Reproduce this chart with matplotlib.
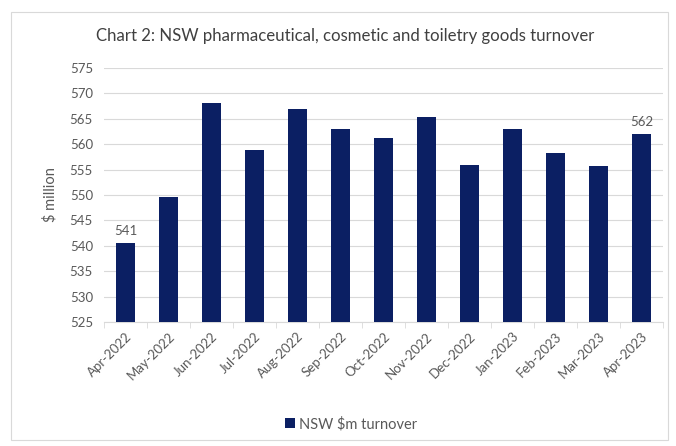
import matplotlib
matplotlib.use("Agg")
import matplotlib.pyplot as plt
from matplotlib.patches import Rectangle

months = ["Apr-2022", "May-2022", "Jun-2022", "Jul-2022", "Aug-2022", "Sep-2022",
          "Oct-2022", "Nov-2022", "Dec-2022", "Jan-2023", "Feb-2023", "Mar-2023",
          "Apr-2023"]
turnover = [540.6, 549.6, 568.1, 558.8, 567.0, 563.0,
            561.2, 565.4, 555.9, 563.0, 558.2, 555.8, 562.0]
labelled = [0, 12]
y_ticks = list(range(525, 576, 5))

plt.rcParams['font.family'] = ['Lato', 'DejaVu Sans']
text_col = '#595959'
bar_col = '#0b1f63'

fig = plt.figure(figsize=(6.76, 4.46), dpi=100)
fig.patches.append(Rectangle((11 / 676, 1 - 440 / 446), 657 / 676, 428 / 446,
                             transform=fig.transFigure, fill=False,
                             edgecolor='#d9d9d9', linewidth=0.8))

ax = fig.add_axes([104 / 676, 1 - 322 / 446, 559 / 676, 254 / 446])
x = range(len(months))
bars = ax.bar(x, [v - 525 for v in turnover], bottom=525, width=0.42,
              color=bar_col, label='NSW $m turnover', zorder=3)

for i in labelled:
    ax.text(i, turnover[i] + 1.2, f"{turnover[i]:.0f}", ha='center', va='bottom',
            fontsize=9.5, color=text_col)

ax.set_xlim(-0.5, len(months) - 0.5)
ax.set_ylim(525, 575)
ax.set_yticks(y_ticks)
ax.set_yticklabels([str(t) for t in y_ticks])
ax.yaxis.grid(True, color='#d9d9d9', linewidth=0.8, zorder=0)
ax.tick_params(axis='y', length=0, labelsize=9.5, labelcolor=text_col, pad=8)

ax.set_xticks(list(x))
ax.set_xticklabels(months, rotation=45, ha='right', rotation_mode='anchor')
ax.set_xticks([i - 0.5 for i in range(len(months) + 1)], minor=True)
ax.tick_params(axis='x', which='major', length=0, labelsize=9.5,
               labelcolor=text_col, pad=6)
ax.tick_params(axis='x', which='minor', length=4, color='#d9d9d9')

for side in ('top', 'right', 'left'):
    ax.spines[side].set_visible(False)
ax.spines['bottom'].set_color('#d9d9d9')

ax.set_ylabel('$ million', fontsize=10.5, color=text_col, labelpad=9)

fig.text(345 / 676, 1 - 36 / 446, 'Chart 2: NSW pharmaceutical, cosmetic and toiletry goods turnover',
         ha='center', va='center', fontsize=12.1, color='#404040')

fig.legend(handles=[bars], labels=['NSW $m turnover'], loc='center',
           bbox_to_anchor=(351 / 676, 1 - 424 / 446), frameon=False, fontsize=10.5,
           labelcolor=text_col, handlelength=0.7, handleheight=0.7,
           handletextpad=0.3)

fig.savefig('out.png', dpi=100)
